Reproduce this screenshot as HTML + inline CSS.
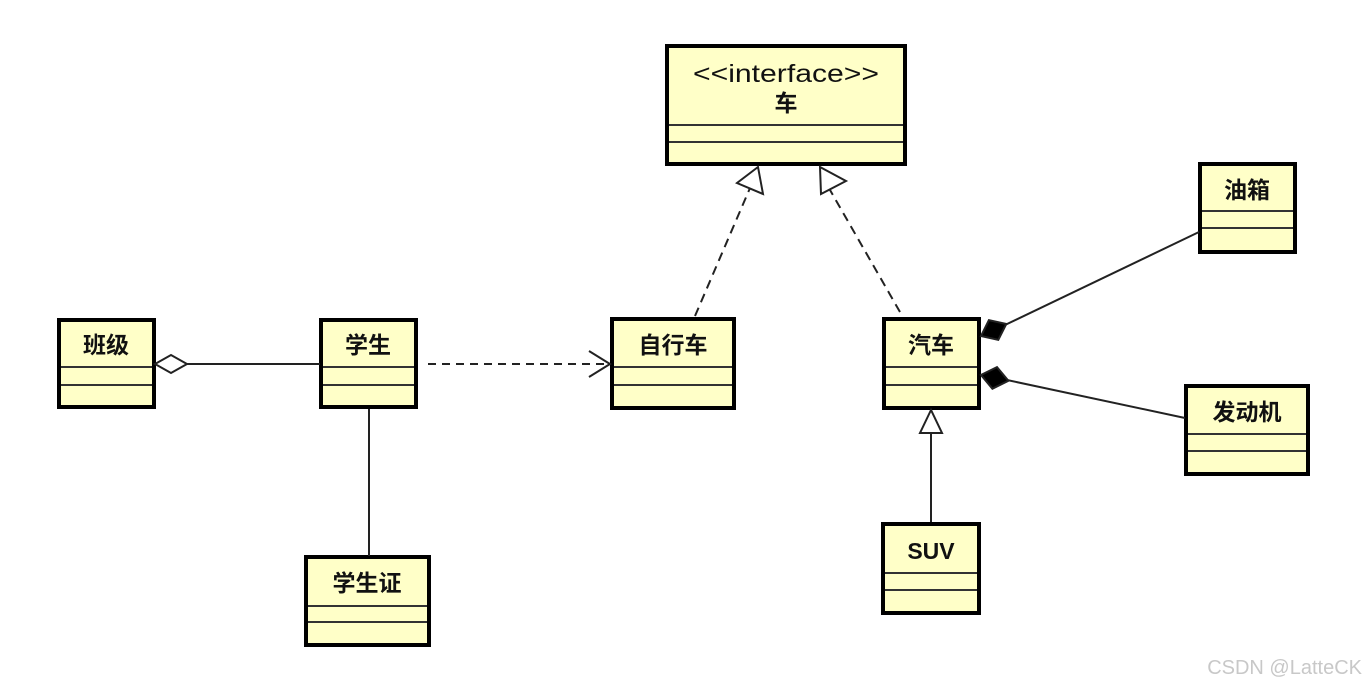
<!DOCTYPE html>
<html><head><meta charset="utf-8"><style>
html,body{margin:0;padding:0;background:#fff;}
svg{display:block;}
text{font-family:"Liberation Sans","Noto Sans CJK SC",sans-serif;}
</style></head><body>
<svg width="1364" height="690" viewBox="0 0 1364 690" xmlns="http://www.w3.org/2000/svg">
<g stroke="#000" fill="#ffffc8" stroke-width="4">
<rect x="667" y="46" width="238" height="118"/>
<rect x="59" y="320" width="95" height="87"/>
<rect x="321" y="320" width="95" height="87"/>
<rect x="612" y="319" width="122" height="89"/>
<rect x="884" y="319" width="95" height="89"/>
<rect x="1200" y="164" width="95" height="88"/>
<rect x="1186" y="386" width="122" height="88"/>
<rect x="306" y="557" width="123" height="88"/>
<rect x="883" y="524" width="96" height="89"/>
</g>
<g stroke="#333" stroke-width="2">
<line x1="669" y1="125" x2="903" y2="125"/><line x1="669" y1="142" x2="903" y2="142"/>
<line x1="61" y1="367" x2="152" y2="367"/><line x1="61" y1="385" x2="152" y2="385"/>
<line x1="323" y1="367" x2="414" y2="367"/><line x1="323" y1="385" x2="414" y2="385"/>
<line x1="614" y1="367" x2="732" y2="367"/><line x1="614" y1="385" x2="732" y2="385"/>
<line x1="886" y1="367" x2="977" y2="367"/><line x1="886" y1="385" x2="977" y2="385"/>
<line x1="1202" y1="211" x2="1293" y2="211"/><line x1="1202" y1="228" x2="1293" y2="228"/>
<line x1="1188" y1="434" x2="1306" y2="434"/><line x1="1188" y1="451" x2="1306" y2="451"/>
<line x1="308" y1="606" x2="427" y2="606"/><line x1="308" y1="622" x2="427" y2="622"/>
<line x1="885" y1="573" x2="977" y2="573"/><line x1="885" y1="590" x2="977" y2="590"/>
</g>
<g font-weight="bold" font-size="23" text-anchor="middle" fill="#111">
<text x="786" y="82" font-weight="normal" font-size="25" textLength="186" lengthAdjust="spacingAndGlyphs">&lt;&lt;interface&gt;&gt;</text>
<text x="786" y="111">车</text>
<text x="106" y="353">班级</text>
<text x="368" y="353">学生</text>
<text x="673" y="353">自行车</text>
<text x="931" y="353">汽车</text>
<text x="1247" y="198">油箱</text>
<text x="1247" y="420">发动机</text>
<text x="367" y="591">学生证</text>
<text x="931" y="559">SUV</text>
</g>
<g stroke="#222" stroke-width="2" fill="none">
<line x1="186" y1="364" x2="320" y2="364"/>
<polygon points="155,364 171,355 187,364 171,373" fill="#fff"/>
<line x1="428" y1="364" x2="608" y2="364" stroke-dasharray="8,6"/>
<polyline points="589,351 610,364 589,377"/>
<line x1="369" y1="409" x2="369" y2="556"/>
<line x1="695" y1="316" x2="750" y2="188" stroke-dasharray="9,6"/>
<polygon points="758,167 737,183 763,194" fill="#fff"/>
<line x1="900" y1="312" x2="830" y2="190" stroke-dasharray="9,6"/>
<polygon points="820,167 846,181 821,194" fill="#fff"/>
<line x1="931" y1="522" x2="931" y2="433"/>
<polygon points="931,410 920,433 942,433" fill="#fff"/>
<line x1="1005" y1="325" x2="1199" y2="232"/>
<polygon points="981,336 998.3,339.9 1006.3,324 988.9,320.1" fill="#000"/>
<line x1="1007" y1="380" x2="1185" y2="418"/>
<polygon points="981,375 992.4,388.7 1008.4,380.8 997,367.1" fill="#000"/>
</g>
<text x="1362" y="674" text-anchor="end" font-size="20" fill="#c8c8c8">CSDN @LatteCK</text>
</svg>
</body></html>
